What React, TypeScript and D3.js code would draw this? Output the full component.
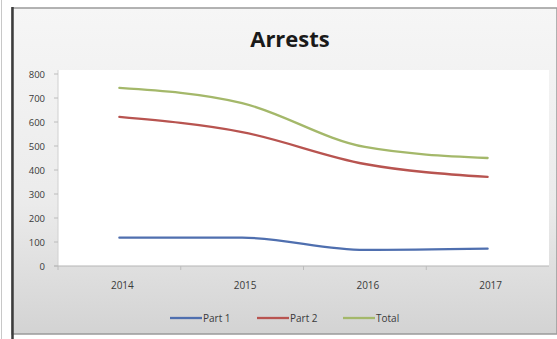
import React from "react";
import * as d3 from "d3";

const years = ["2014", "2015", "2016", "2017"];
const part1 = [118, 118, 67, 72];
const part2 = [621, 558, 425, 371];
const total = [742, 679, 496, 450];
const yTicks = [0, 100, 200, 300, 400, 500, 600, 700, 800];
const seriesNames = ["Part 1", "Part 2", "Total"];
const seriesColors = ["#4F6FAF", "#B85450", "#A4B86A"];

const W = 557;
const H = 339;

export default function App() {
  const left = 58, right = 549, top = 70, bottom = 266;
  const x = d3.scaleBand<string>().domain(years).range([left, right]);
  const y = d3.scaleLinear().domain([0, 800]).range([bottom, 74]);
  const line = d3
    .line<number>()
    .x((_, i) => (x(years[i]) as number) + x.bandwidth() / 2)
    .y((d) => y(d))
    .curve(d3.curveMonotoneX);
  const series = [part1, part2, total];
  const font = "'Open Sans', 'Liberation Sans', sans-serif";
  const legendX = [170, 257, 343];

  return (
    <svg
      width={W}
      height={H}
      style={{ position: "absolute", left: 0, top: 0, background: "#fff" }}
    >
      <defs>
        <linearGradient id="bg" x1="0" y1="0" x2="0" y2="1">
          <stop offset="0" stopColor="#f6f6f6" />
          <stop offset="0.6" stopColor="#ebebeb" />
          <stop offset="1" stopColor="#d3d3d3" />
        </linearGradient>
      </defs>
      <line x1={1.5} x2={1.5} y1={0} y2={H} stroke="#c8c8c8" strokeWidth={1} />
      <rect x={12} y={8} width={W - 12} height={326} fill="url(#bg)" stroke="#9a9a9a" strokeWidth={1.5} />
      <line x1={12.5} x2={12.5} y1={7} y2={H} stroke="#3c3c3c" strokeWidth={2.5} />
      <text
        x={290}
        y={47}
        textAnchor="middle"
        fontFamily={font}
        fontWeight={700}
        fontSize={22}
        fill="#1a1a1a"
      >
        Arrests
      </text>
      <rect x={left} y={top} width={right - left} height={bottom - top} fill="#ffffff" />
      <line x1={left} x2={left} y1={top} y2={bottom} stroke="#d0d0d0" strokeWidth={1} />
      <line x1={left - 4} x2={right} y1={bottom} y2={bottom} stroke="#b5b5b5" strokeWidth={1.2} />
      {yTicks.map((t) => (
        <g key={t}>
          <line x1={left - 4} x2={left} y1={y(t)} y2={y(t)} stroke="#bcbcbc" />
          <text
            x={45}
            y={y(t) + 3.5}
            textAnchor="end"
            fontFamily={font}
            fontSize={9.5}
            fill="#3a3a3a"
          >
            {t}
          </text>
        </g>
      ))}
      {years.map((yr) => (
        <g key={yr}>
          <line
            x1={x(yr) as number}
            x2={x(yr) as number}
            y1={bottom}
            y2={bottom + 4}
            stroke="#bcbcbc"
          />
          <text
            x={(x(yr) as number) + x.bandwidth() / 2 + 3}
            y={289}
            textAnchor="middle"
            fontFamily={font}
            fontSize={10}
            fill="#3a3a3a"
          >
            {yr}
          </text>
        </g>
      ))}
      {series.map((s, i) => (
        <path
          key={seriesNames[i]}
          d={line(s) as string}
          fill="none"
          stroke={seriesColors[i]}
          strokeWidth={2.3}
          strokeLinecap="round"
        />
      ))}
      {seriesNames.map((n, i) => (
        <g key={n}>
          <line
            x1={legendX[i]}
            x2={legendX[i] + 32}
            y1={318}
            y2={318}
            stroke={seriesColors[i]}
            strokeWidth={2.3}
          />
          <text x={legendX[i] + 33} y={321.5} fontFamily={font} fontSize={10} fill="#3a3a3a">
            {n}
          </text>
        </g>
      ))}
    </svg>
  );
}
